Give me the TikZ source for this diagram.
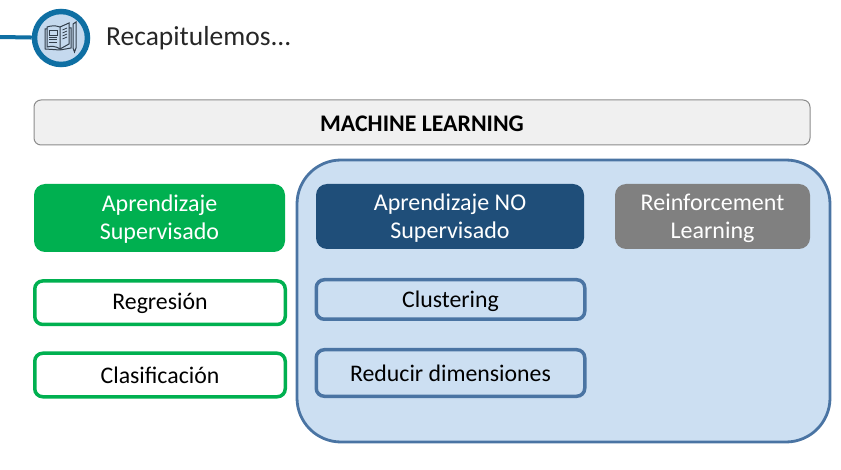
\documentclass[tikz,border=0pt]{standalone}
\usepackage{fontspec}
\setmainfont{Carlito}
\definecolor{ringblue}{HTML}{0F6FA3}
\definecolor{iconfill}{HTML}{C5D9EE}
\definecolor{panelfill}{HTML}{CCDFF2}
\definecolor{paneldraw}{HTML}{4A74A3}
\definecolor{navy}{HTML}{1F4E79}
\definecolor{greenbox}{HTML}{00B050}
\definecolor{bookink}{HTML}{333F4C}
\newcommand{\nudgetext}[2]{\raisebox{0pt}[\dimexpr\height+#1\relax][\depth]{#2}}
\newcommand{\twolines}[2]{\begin{tabular}{@{}c@{}}#1\\#2\end{tabular}}
\tikzset{
  header/.style={draw=gray!90, fill=black!6, rounded corners=7pt, line width=1pt,
                 minimum width=776pt, minimum height=45pt, inner sep=0pt,
                 font=\fontsize{23.8}{28}\selectfont\bfseries},
  headbox/.style={rounded corners=11pt, inner sep=0pt, align=center, text=white,
                  font=\fontsize{24}{28}\selectfont},
  itembox/.style={rounded corners=8pt, line width=3.5pt, inner sep=0pt, align=center,
                  font=\fontsize{23.8}{28}\selectfont},
  bookline/.style={draw=bookink, line width=1pt}
}
\begin{document}
\begin{tikzpicture}[x=1pt, y=-1pt]
  \useasboundingbox (0,0) rectangle (841,470);
  % title
  \coordinate (linestart) at (0,37);
  \node[circle, draw=ringblue, fill=iconfill, line width=5.5pt, minimum size=53pt, inner sep=0pt] (iconring) at (61,38) {};
  \draw[ringblue, line width=4pt] (linestart) -- (iconring);
  \node[anchor=west, inner sep=0pt, font=\fontsize{27.5}{32}\selectfont, text=black!85] (title) at (106,38) {Recapitulemos...};
  % book
  \draw[bookline] (60,27) .. controls (55,25) and (50,26) .. (47,27) -- (47,47) .. controls (51,46) and (56,46) .. (60,49) -- cycle;
  \draw[bookline] (60,27) -- (69,23) -- (69,44) -- (60,49);
  \draw[bookline] (69,28) -- (71,28) -- (71,48) -- (60,50) -- (45,49) -- (45,29) -- (47,29);
  \draw[bookline, line width=0.8pt] (49,30) rectangle (57,35);
  \foreach \yy in {37,39.5,42} {
    \draw[bookline, line width=0.8pt] (49,\yy) -- (57,\yy);
  }
  \foreach \yy in {30,33,36,39} {
    \draw[bookline, line width=0.8pt] (62.5,\yy) -- (67,\yy-2);
  }
  \draw[bookline] (73,24) -- (76,22) -- (76,48) -- (74.5,52) -- (73,48) -- cycle;
  % main boxes
  \node[header] (ml) at (422,122.5) {\nudgetext{2pt}{MACHINE LEARNING}};
  \node[draw=paneldraw, fill=panelfill, rounded corners=44pt, line width=2.8pt,
        minimum width=533pt, minimum height=282pt, inner sep=0pt] (panel) at (563.5,301) {};
  \node[headbox, fill=greenbox, minimum width=251pt, minimum height=68pt] (sup) at (159.5,218) {\nudgetext{4pt}{\twolines{Aprendizaje}{Supervisado}}};
  \node[headbox, fill=navy, minimum width=268pt, minimum height=65pt] (nosup) at (450,216.5) {\nudgetext{5pt}{\twolines{Aprendizaje NO}{Supervisado}}};
  \node[headbox, fill=black!50, minimum width=195pt, minimum height=65pt] (rl) at (712.5,216.5) {\nudgetext{5pt}{\twolines{Reinforcement}{Learning}}};
  \node[itembox, draw=greenbox, fill=white, minimum width=250.5pt, minimum height=43.5pt] (reg) at (160,302.7) {\nudgetext{2pt}{Regresión}};
  \node[itembox, draw=greenbox, fill=white, minimum width=250.5pt, minimum height=43.5pt] (clas) at (160,375) {Clasificación};
  \node[itembox, draw=paneldraw, fill=panelfill, minimum width=268.5pt, minimum height=39.5pt] (clust) at (450.5,299.5) {\nudgetext{3pt}{Clustering}};
  \node[itembox, draw=paneldraw, fill=panelfill, minimum width=268.5pt, minimum height=46.5pt] (dim) at (450.5,373) {Reducir dimensiones};
\end{tikzpicture}
\end{document}
